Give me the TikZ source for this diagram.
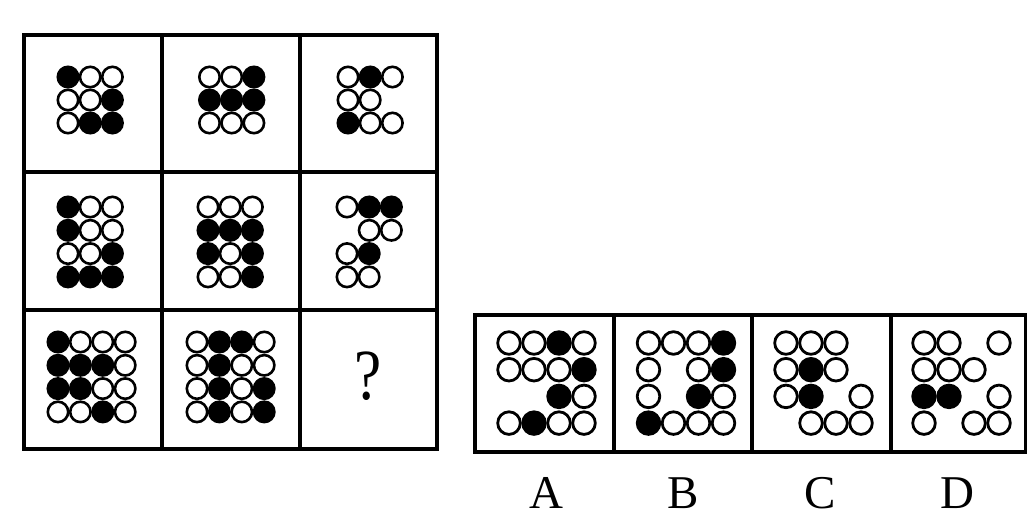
\documentclass[tikz,border=0pt]{standalone}
\usepackage{fontspec}
\setmainfont{Liberation Serif}
\begin{document}
\begin{tikzpicture}[x=1pt,y=-1pt,
  gridline/.style={line width=4pt,black},
  circ/.style={line width=2.6pt,draw=black},
  ocirc/.style={line width=2.8pt,draw=black},
  lbl/.style={font=\fontsize{47}{56}\selectfont,inner sep=0pt,anchor=base}]
\useasboundingbox (0,0) rectangle (1027,513);
\fill[white] (0,0) rectangle (1027,513);
\newcommand\pat[7]{%
 \foreach \row [count=\j from 0] in {#6} {%
   \foreach \c [count=\i from 0] in \row {%
     \if\c N\else
       \if\c B\def\fc{black}\else\def\fc{white}\fi
       \draw[#7, fill=\fc] ({#1+\i*#3},{#2+\j*#4}) circle[radius=#5];
     \fi
   }}}
% main grid
\draw[gridline] (24,35) rectangle (437,449);
\draw[gridline] (162,35) -- (162,449);
\draw[gridline] (300,35) -- (300,449);
\draw[gridline] (24,172) -- (437,172);
\draw[gridline] (24,310) -- (437,310);
% row 1
\pat{68}{77}{22.2}{23}{10.2}{{B,W,W},{W,W,B},{W,B,B}}{circ}
\pat{209.5}{77}{22.2}{23}{10.2}{{W,W,B},{B,B,B},{W,W,W}}{circ}
\pat{348}{77}{22.2}{23}{10.2}{{W,B,W},{W,W,N},{B,W,W}}{circ}
% row 2
\pat{68}{207}{22.2}{23.3}{10.2}{{B,W,W},{B,W,W},{W,W,B},{B,B,B}}{circ}
\pat{208}{207}{22.2}{23.3}{10.2}{{W,W,W},{B,B,B},{B,W,B},{W,W,B}}{circ}
\pat{347}{207}{22.2}{23.3}{10.2}{{W,B,B},{N,W,W},{W,B,N},{W,W,N}}{circ}
% row 3
\pat{58}{342}{22.4}{23.3}{10.2}{{B,W,W,W},{B,B,B,W},{B,B,W,W},{W,W,B,W}}{circ}
\pat{197}{342}{22.4}{23.3}{10.2}{{W,B,B,W},{W,B,W,W},{W,B,W,B},{W,B,W,B}}{circ}
\node[font=\fontsize{72}{80}\selectfont,xscale=0.85,inner sep=0pt] (q) at (368,376) {?};
% options
\draw[gridline] (475,315) rectangle (1026,452);
\draw[gridline] (614,315) -- (614,452);
\draw[gridline] (752,315) -- (752,452);
\draw[gridline] (891,315) -- (891,452);
\pat{509}{343}{25}{26.7}{11.3}{{W,W,B,W},{W,W,W,B},{N,N,B,W},{W,B,W,W}}{ocirc}
\pat{648.5}{343}{25}{26.7}{11.3}{{W,W,W,B},{W,N,W,B},{W,N,B,W},{B,W,W,W}}{ocirc}
\pat{786}{343}{25}{26.7}{11.3}{{W,W,W,N},{W,B,W,N},{W,B,N,W},{N,W,W,W}}{ocirc}
\pat{924}{343}{25}{26.7}{11.3}{{W,W,N,W},{W,W,W,N},{B,B,N,W},{W,N,W,W}}{ocirc}
\node[lbl] (la) at (546,508) {A};
\node[lbl] (lb) at (683,508) {B};
\node[lbl] (lc) at (820,508) {C};
\node[lbl] (ld) at (957,508) {D};
\end{tikzpicture}
\end{document}
